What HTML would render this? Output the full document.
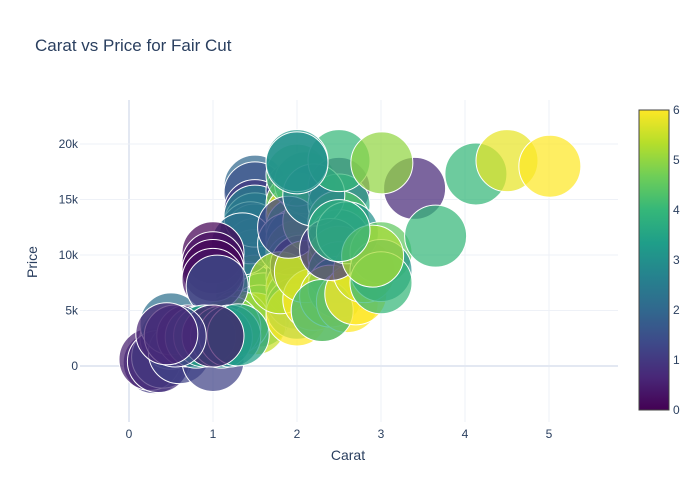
<!DOCTYPE html>
<html><head><meta charset="utf-8"><style>
body{margin:0;background:#fff;}
svg{display:block;font-family:"Liberation Sans",sans-serif;}
</style></head><body>
<svg id="chart" width="700" height="500">
<defs>
<linearGradient id="vir" x1="0" y1="1" x2="0" y2="0">
<stop offset="0" stop-color="#440154"/><stop offset="0.111" stop-color="#482878"/><stop offset="0.222" stop-color="#3e4989"/><stop offset="0.333" stop-color="#31688e"/><stop offset="0.444" stop-color="#26828e"/><stop offset="0.556" stop-color="#1f9e89"/><stop offset="0.667" stop-color="#35b779"/><stop offset="0.778" stop-color="#6ece58"/><stop offset="0.889" stop-color="#b5de2b"/><stop offset="1" stop-color="#fde725"/>
</linearGradient>
<clipPath id="pc"><rect x="80" y="100" width="538" height="322"/></clipPath>
</defs>
<text x="35" y="51" font-size="17" fill="#2a3f5f">Carat vs Price for Fair Cut</text>
<g id="grid"></g>
<g id="marks" clip-path="url(#pc)"></g>
<g id="axes"></g>
<text x="348" y="460" font-size="14" fill="#2a3f5f" text-anchor="middle">Carat</text>
<text x="37" y="262" font-size="14" fill="#2a3f5f" text-anchor="middle" transform="rotate(-90 37 262)">Price</text>
<rect x="639" y="110" width="30" height="300" fill="url(#vir)" stroke="#444" stroke-width="1"/>
<g id="cbticks"></g>
</svg>
<script>
const xTicks=[0,1,2,3,4,5];
const yTicks=[0,5000,10000,15000,20000];
const yTickLabels=["0","5k","10k","15k","20k"];
const cbTicks=[0,1,2,3,4,5,6];
const carat=[0.3,0.25,0.4,0.5,0.35,0.6,0.5,1.0,
1.5,1.5,1.5,1.5,1.5,1.5,1.5,1.5,1.5,1.4,1.6,1.55,1.45,1.5,1.5,1.3,1.2,1.35,
2.0,2.0,2.0,2.0,2.0,2.0,2.0,2.0,2.0,2.0,2.0,2.0,2.1,1.9,2.05,2.2,2.0,1.8,2.2,2.3,2.1,1.9,
2.5,2.5,2.5,2.5,2.5,2.5,2.5,2.4,2.6,2.3,2.2,2.7,2.8,2.4,2.6,
3.0,3.0,3.0,2.9,3.4,3.65,2.5,2.5,2.0,2.0,3.01,4.13,4.5,5.01,
1.0,1.0,1.0,1.0,1.05,0.7,0.8,0.9,1.1,1.2,1.3,1.0,0.55,0.45];
const price=[300,600,800,2500,400,1200,3800,500,
16200,15600,14000,12800,11800,10500,9500,8300,7200,6600,5600,4500,12000,13500,3800,4000,3500,11000,
15800,14600,13600,12400,11400,10300,9200,8100,7100,6100,5200,4600,16500,11000,9000,13000,17200,7500,6000,5000,8500,12500,
16000,14500,13000,11300,9800,8400,7100,6300,5800,5000,15400,6500,8500,10500,12000,
10200,8600,7500,9900,16000,11700,12200,18500,18500,18300,18300,17300,18500,18000,
10200,9300,8600,7800,7200,2700,2600,2700,2600,2700,2800,2700,2700,2900];
const colorVal=[1,0.5,1.5,2,0.8,1.2,2.2,1.2,
2,1.5,1,2.3,3,2.5,4,3.5,5,2.8,4.2,4,1.6,2.6,5.5,5,4.8,2.2,
1,4.8,5.8,3.6,2.8,5.2,4.4,1.8,5.6,4,3.8,6,3.5,2.4,0.4,4.6,4.2,5.3,6,6,5.5,1.2,
0.8,3.6,4.3,2.2,5,4.1,3.2,5.5,6,3.9,2.6,6,5.6,1,3,
4.5,3,4,5.2,0.7,4,3.8,4,3.2,3,5,4,5.8,6,
0,0.2,0.1,0.3,1.5,0.3,3,3.5,3.2,2.8,3.4,0.4,1.1,0.6];

const X0=129,XS=84,Y0=366,YS=222/20000;
const sx=v=>X0+v*XS, sy=v=>Y0-v*YS;
const ns="http://www.w3.org/2000/svg";
const stops=[[68,1,84],[72,40,120],[62,73,137],[49,104,142],[38,130,142],[31,158,137],[53,183,121],[110,206,88],[181,222,43],[253,231,37]];
function vir(v){let t=Math.max(0,Math.min(1,v/6))*9;let i=Math.min(8,Math.floor(t)),f=t-i;
const c=stops[i].map((a,k)=>Math.round(a+(stops[i+1][k]-a)*f));return `rgb(${c})`;}
const grid=document.getElementById('grid'),axes=document.getElementById('axes');
xTicks.forEach(t=>{
const l=document.createElementNS(ns,'line');


l.setAttribute('x1',sx(t));l.setAttribute('x2',sx(t));l.setAttribute('y1',100);l.setAttribute('y2',422);
l.setAttribute('stroke',t===0?'#e3e8f2':'#eef1f7');l.setAttribute('stroke-width',t===0?2:1);grid.appendChild(l);
const tx=document.createElementNS(ns,'text');


tx.setAttribute('x',sx(t));tx.setAttribute('y',438);tx.setAttribute('font-size',12);tx.setAttribute('fill','#2a3f5f');tx.setAttribute('text-anchor','middle');tx.textContent=t;axes.appendChild(tx);});
yTicks.forEach((t,i)=>{
const l=document.createElementNS(ns,'line');


l.setAttribute('x1',80);l.setAttribute('x2',618);l.setAttribute('y1',sy(t));l.setAttribute('y2',sy(t));
l.setAttribute('stroke',t===0?'#e3e8f2':'#eef1f7');l.setAttribute('stroke-width',t===0?2:1);grid.appendChild(l);
const tx=document.createElementNS(ns,'text');


tx.setAttribute('x',78);tx.setAttribute('y',sy(t)+4);tx.setAttribute('font-size',12);tx.setAttribute('fill','#2a3f5f');tx.setAttribute('text-anchor','end');tx.textContent=yTickLabels[i];axes.appendChild(tx);});
const marks=document.getElementById('marks');
carat.forEach((c,i)=>{
const ci=document.createElementNS(ns,'circle');


ci.setAttribute('cx',sx(c));ci.setAttribute('cy',sy(price[i]));ci.setAttribute('r',31);
ci.setAttribute('fill',vir(colorVal[i]));ci.setAttribute('fill-opacity',0.72);ci.setAttribute('stroke','#fff');ci.setAttribute('stroke-width',1);
marks.appendChild(ci);});
const cb=document.getElementById('cbticks');
cbTicks.forEach(t=>{
const tx=document.createElementNS(ns,'text');


tx.setAttribute('x',673);tx.setAttribute('y',410-t*50+4);tx.setAttribute('font-size',12);tx.setAttribute('fill','#2a3f5f');tx.textContent=t;cb.appendChild(tx);});
</script>
</body></html>
